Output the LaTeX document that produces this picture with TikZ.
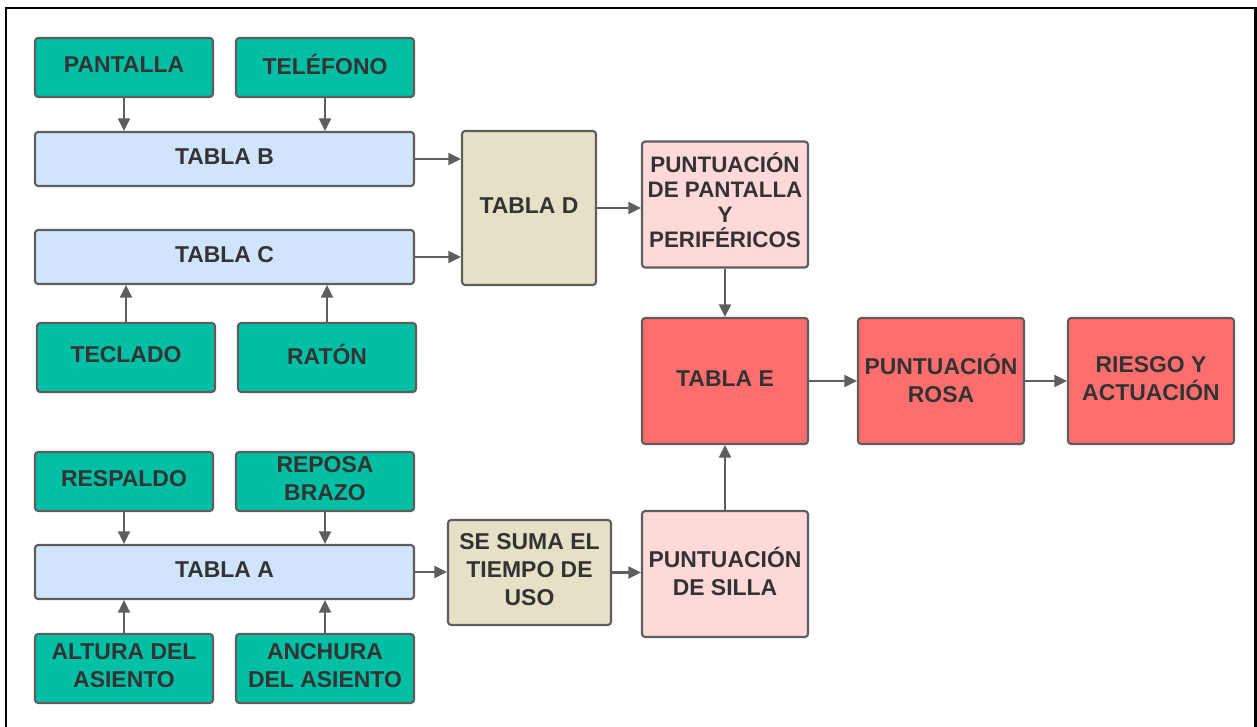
\documentclass[tikz,border=0pt]{standalone}
\usepackage{fontspec}
\setmainfont{Liberation Sans}
\usetikzlibrary{arrows.meta}
\definecolor{teal}{HTML}{00BFA5}
\definecolor{tabblue}{HTML}{D0E4FC}
\definecolor{beige}{HTML}{E6E0C7}
\definecolor{lightpink}{HTML}{FFD8D9}
\definecolor{red}{HTML}{FF6E6E}
\definecolor{edge}{HTML}{5E5E5E}
\definecolor{ink}{HTML}{333333}
\tikzset{
  box/.style 2 args={draw=edge, line width=1.6pt, rounded corners=2.4pt,
    minimum width=#1*0.75pt, minimum height=#2*0.75pt, inner sep=0pt,
    align=center, text=ink, text depth=4pt,
    font=\fontsize{17.2}{21}\selectfont\bfseries},
  tight/.style={font=\fontsize{16.8}{18.8}\selectfont\bfseries, text depth=7pt},
  input/.style={fill=teal},
  tabla/.style={fill=tabblue},
  sum/.style={fill=beige},
  score/.style={fill=lightpink},
  result/.style={fill=red},
  link/.style={draw=edge, line width=1.6pt,
    -{Triangle[length=9.5pt,width=9pt]}},
}
\begin{document}
\begin{tikzpicture}[x=0.75pt, y=-0.75pt]
\useasboundingbox (0,0) rectangle (1257,727);
% outer frame (open at the bottom)
\draw[line width=1.9pt, black] (6,740) -- (6,8) -- (1255.5,8) -- (1255.5,740);

% screen and peripherals
\node[box={178}{59}, input] (pant) at (124,67.5) {PANTALLA};
\node[box={178}{59}, input] (tel)  at (325,67.5) {TELÉFONO};
\node[box={379}{54}, tabla] (tb)   at (224.5,159) {TABLA B};
\node[box={379}{54}, tabla] (tc)   at (224.5,257) {TABLA C};
\node[box={178}{69}, input] (tec)  at (126,357.5) {TECLADO};
\node[box={178}{69}, input] (rat)  at (327,357.5) {RATÓN};
\node[box={134}{154}, sum] (td)    at (529,208) {TABLA D};
\node[box={166}{126}, score, tight] (ppp) at (725,204.5)
  {PUNTUACIÓN\\DE PANTALLA\\Y\\PERIFÉRICOS};

% final scoring
\node[box={166}{126}, result] (te) at (725,381) {TABLA E};
\node[box={166}{126}, result] (pr) at (941,381) {PUNTUACIÓN\\ROSA};
\node[box={166}{126}, result] (ra) at (1151,381) {RIESGO Y\\ACTUACIÓN};

% chair
\node[box={178}{59}, input] (resp) at (124,481.5) {RESPALDO};
\node[box={178}{59}, input] (rep)  at (325,481.5) {REPOSA\\BRAZO};
\node[box={379}{54}, tabla] (ta)   at (224.5,572) {TABLA A};
\node[box={178}{69}, input] (alt)  at (124,668.5) {ALTURA DEL\\ASIENTO};
\node[box={178}{69}, input] (anc)  at (325,668.5) {ANCHURA\\DEL ASIENTO};
\node[box={163}{105}, sum] (ssu)   at (529.5,572.5) {SE SUMA EL\\TIEMPO DE\\USO};
\node[box={166}{126}, score] (ps)  at (725,574) {PUNTUACIÓN\\DE SILLA};

% connectors
\draw[link] (pant.south) -- (pant.south |- tb.north);
\draw[link] (tel.south) -- (tel.south |- tb.north);
\draw[link] (tec.north) -- (tec.north |- tc.south);
\draw[link] (rat.north) -- (rat.north |- tc.south);
\draw[link] (tb.east) -- (tb.east -| td.west);
\draw[link] (tc.east) -- (tc.east -| td.west);
\draw[link] (td.east) -- (td.east -| ppp.west);
\draw[link] (ppp.south) -- (te.north);
\draw[link] (te.east) -- (pr.west);
\draw[link] (pr.east) -- (ra.west);
\draw[link] (resp.south) -- (resp.south |- ta.north);
\draw[link] (rep.south) -- (rep.south |- ta.north);
\draw[link] (alt.north) -- (alt.north |- ta.south);
\draw[link] (anc.north) -- (anc.north |- ta.south);
\draw[link] (ta.east) -- (ta.east -| ssu.west);
\draw[link] (ssu.east) -- (ssu.east -| ps.west);
\draw[link] (ps.north) -- (te.south);
\end{tikzpicture}
\end{document}
